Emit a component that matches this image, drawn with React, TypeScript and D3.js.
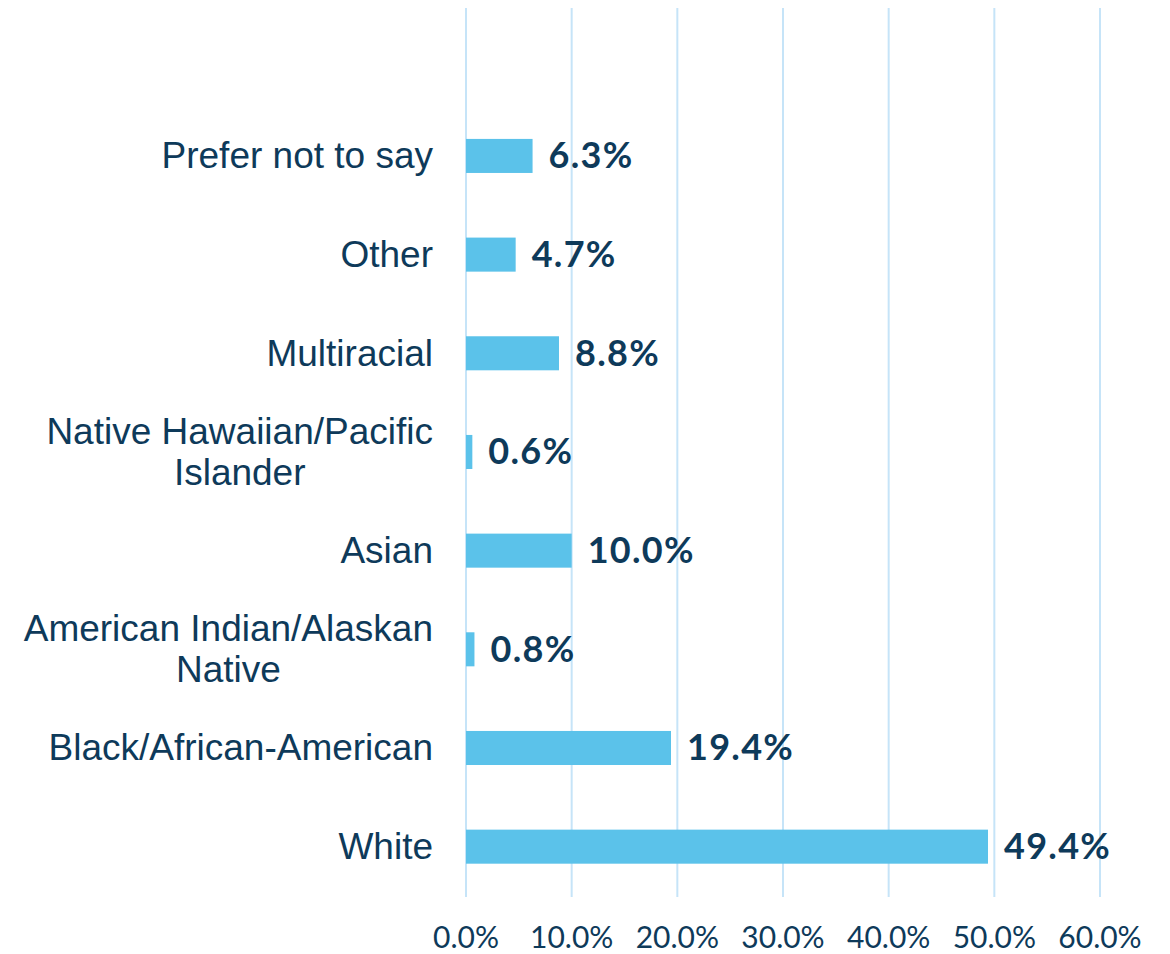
import React, { useEffect, useRef } from "react";
import * as d3 from "d3";

const categories: string[][] = [
  ["Prefer not to say"],
  ["Other"],
  ["Multiracial"],
  ["Native Hawaiian/Pacific", "Islander"],
  ["Asian"],
  ["American Indian/Alaskan", "Native"],
  ["Black/African-American"],
  ["White"],
];
const values: number[] = [6.3, 4.7, 8.8, 0.6, 10.0, 0.8, 19.4, 49.4];
const valueLabels: string[] = ["6.3%", "4.7%", "8.8%", "0.6%", "10.0%", "0.8%", "19.4%", "49.4%"];
const ticks: number[] = [0, 10, 20, 30, 40, 50, 60];
const tickLabels: string[] = ["0.0%", "10.0%", "20.0%", "30.0%", "40.0%", "50.0%", "60.0%"];

const W = 1170;
const H = 954;
const TEXT = "#0e3a5a";
const BAR = "#5bc2ea";
const GRID = "#c6e4f8";

export default function App() {
  const ref = useRef<SVGSVGElement | null>(null);

  useEffect(() => {
    const svg = d3.select(ref.current);
    svg.selectAll("*").remove();

    const x = d3.scaleLinear().domain([0, 60]).range([466, 1100]);
    const keys = categories.map((_, i) => String(i));
    const y = d3
      .scaleBand<string>()
      .domain(keys)
      .range([106.6, 896])
      .paddingInner(0.655)
      .paddingOuter(0.655 / 2);

    // gridlines
    svg
      .append("g")
      .selectAll("line")
      .data(ticks)
      .join("line")
      .attr("x1", (d) => x(d))
      .attr("x2", (d) => x(d))
      .attr("y1", 8)
      .attr("y2", 897)
      .attr("stroke", GRID)
      .attr("stroke-width", 2);

    // tick labels
    svg
      .append("g")
      .selectAll("text")
      .data(ticks)
      .join("text")
      .attr("x", (d) => x(d))
      .attr("y", 948)
      .attr("text-anchor", "middle")
      .attr("font-family", "Lato, 'Open Sans', sans-serif")
      .attr("font-size", 30)
      .attr("fill", TEXT)
      .text((d, i) => tickLabels[i]);

    // bars
    svg
      .append("g")
      .selectAll("rect")
      .data(values)
      .join("rect")
      .attr("x", x(0))
      .attr("y", (d, i) => y(keys[i])!)
      .attr("width", (d) => x(d) - x(0))
      .attr("height", y.bandwidth())
      .attr("fill", BAR);

    // value labels
    svg
      .append("g")
      .selectAll("text")
      .data(values)
      .join("text")
      .attr("x", (d) => x(d) + 16)
      .attr("y", (d, i) => y(keys[i])! + y.bandwidth() / 2 + 12.5)
      .attr("font-family", "Lato, 'Open Sans', sans-serif")
      .attr("font-weight", 700)
      .attr("font-size", 36)
      .attr("letter-spacing", 1.3)
      .attr("fill", TEXT)
      .text((d, i) => valueLabels[i]);

    // category labels
    const right = 433;
    const lineH = 41.3;
    const gCat = svg.append("g");
    categories.forEach((lines, i) => {
      const cy = y(keys[i])! + y.bandwidth() / 2;
      const texts = lines.map((ln, j) =>
        gCat
          .append("text")
          .attr("font-family", "'Liberation Sans', Arial, sans-serif")
          .attr("font-size", 37)
          .attr("fill", TEXT)
          .attr("text-anchor", "middle")
          .attr("y", cy + 12.5 + (j - (lines.length - 1) / 2) * lineH)
          .text(ln)
      );
      const widths = texts.map((t) => (t.node() as SVGTextElement).getComputedTextLength());
      const maxW = Math.max(...widths);
      texts.forEach((t) => t.attr("x", right - maxW / 2));
    });
  }, []);

  return (
    <svg ref={ref} width={W} height={H} style={{ position: "absolute", left: 0, top: 0, background: "#fff" }} />
  );
}
